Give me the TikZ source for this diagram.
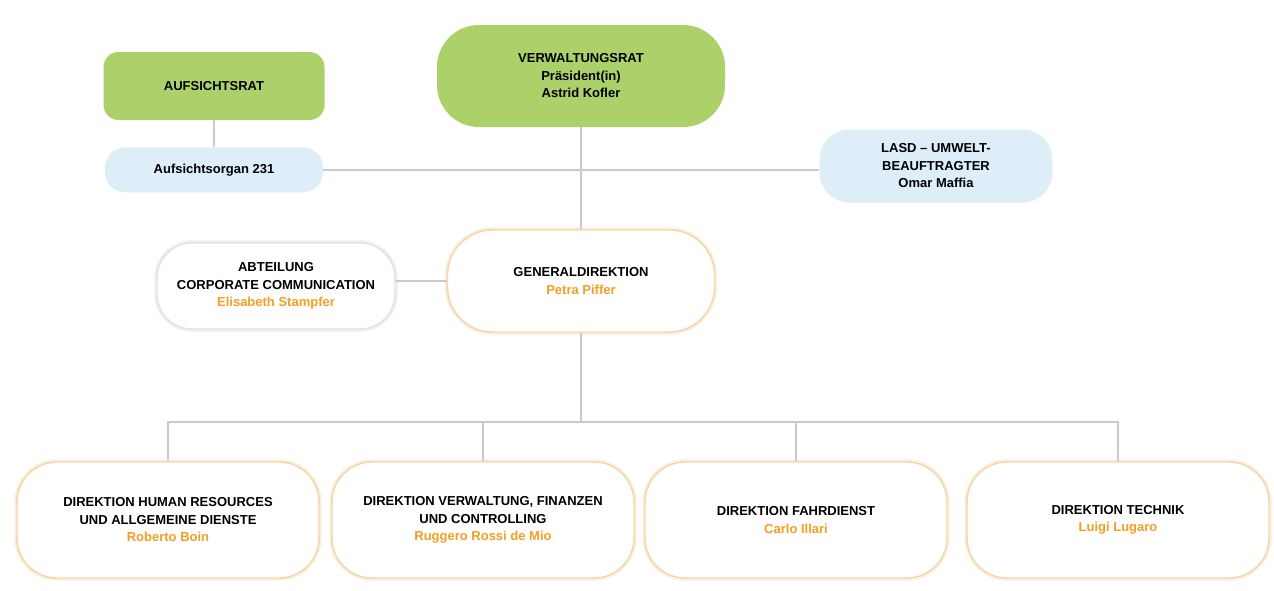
\documentclass[tikz,border=0pt]{standalone}
\usepackage{fontspec}
\setmainfont{Liberation Sans}
\usetikzlibrary{positioning}
\usepackage{xcolor}
\definecolor{BoardGreen}{RGB}{172,208,106}
\definecolor{PaleBlue}{RGB}{222,238,248}
\definecolor{NameOrange}{RGB}{245,158,35}
\definecolor{LineGray}{RGB}{202,202,202}
\definecolor{RimOrange}{RGB}{245,214,172}
\definecolor{RimGray}{RGB}{226,226,226}
\newcommand{\person}[1]{\textcolor{NameOrange}{#1}}
\tikzset{
  orgfont/.style={font=\fontsize{13}{17.5}\selectfont\bfseries},
  boardbox/.style={orgfont,fill=BoardGreen,align=center,inner sep=0pt},
  staffbox/.style={orgfont,fill=PaleBlue,align=center,inner sep=0pt},
  unitbox/.style={orgfont,draw=RimOrange,line width=1.4pt,fill=white,
    align=center,inner sep=0pt,
    preaction={draw=RimOrange!45,line width=5pt}},
  sidebox/.style={unitbox,draw=RimGray,preaction={draw=RimGray!50,line width=5pt}},
  dirbox/.style={unitbox,rounded corners=40pt,minimum width=302pt,
    minimum height=116pt},
  orgline/.style={draw=LineGray,line width=1.6pt},
}

\begin{document}
\begin{tikzpicture}[x=1pt,y=-1pt,node distance=27pt]
  \useasboundingbox (0,0) rectangle (1274,590);
  % top level
  \node[boardbox,rounded corners=15pt,minimum width=221pt,minimum height=68pt]
    (aufsicht) at (214,86) {AUFSICHTSRAT};
  \node[staffbox,rounded corners=20pt,minimum width=218pt,minimum height=45pt,
        below=27pt of aufsicht] (organ) {Aufsichtsorgan 231};
  \node[boardbox,rounded corners=42pt,minimum width=288pt,minimum height=102pt]
    (vrat) at (581,76) {VERWALTUNGSRAT\\Präsident(in)\\Astrid Kofler};
  \node[staffbox,rounded corners=30pt,minimum width=233pt,minimum height=73pt]
    (lasd) at (936,166) {LASD -- UMWELT-\\BEAUFTRAGTER\\Omar Maffia};
  % general management
  \node[unitbox,rounded corners=45pt,minimum width=267pt,minimum height=102pt]
    (gendir) at (581,281) {GENERALDIREKTION\\\person{Petra Piffer}};
  \node[sidebox,rounded corners=35pt,minimum width=238pt,minimum height=86pt]
    (comm) at (276,286) {ABTEILUNG\\CORPORATE COMMUNICATION\\\person{Elisabeth Stampfer}};
  % directorates
  \node[dirbox] (hr) at (168,520)
    {DIREKTION HUMAN RESOURCES\\UND ALLGEMEINE DIENSTE\\\person{Roberto Boin}};
  \node[dirbox] (finanz) at (483,520)
    {DIREKTION VERWALTUNG, FINANZEN\\UND CONTROLLING\\\person{Ruggero Rossi de Mio}};
  \node[dirbox] (fahr) at (796,520) {DIREKTION FAHRDIENST\\\person{Carlo Illari}};
  \node[dirbox] (technik) at (1118,520) {DIREKTION TECHNIK\\\person{Luigi Lugaro}};
  \coordinate (bus) at (581,422);
  % connectors
  \draw[orgline] (aufsicht) -- (organ);
  \draw[orgline] (organ.east) -- (organ.east -| lasd.west);
  \draw[orgline] (vrat) -- (gendir);
  \draw[orgline] (comm.east |- gendir) -- (gendir);
  \draw[orgline] (gendir) -- (bus);
  \draw[orgline] (hr.north) |- (bus) -| (technik.north);
  \foreach \d in {finanz,fahr}
    \draw[orgline] (\d.north) -- (\d.north |- bus);
\end{tikzpicture}
\end{document}
